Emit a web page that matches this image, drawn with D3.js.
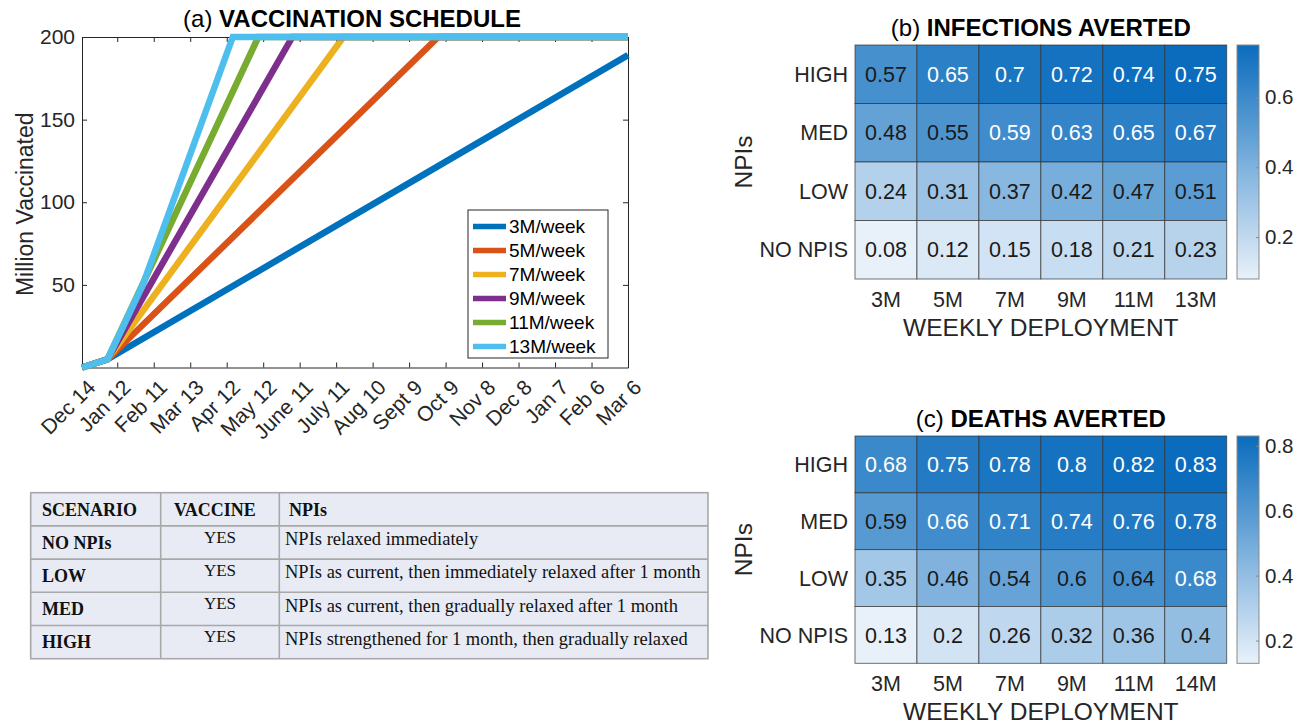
<!DOCTYPE html>
<html>
<head>
<meta charset="utf-8">
<script src="https://cdn.jsdelivr.net/npm/d3@7"></script>
<style>
  body { margin: 0; background: #fff; }
  svg { display: block; font-family: "Liberation Sans", Arial, Helvetica, sans-serif; }
</style>
</head>
<body>
<svg id="fig" width="1311" height="727"></svg>
<script>
// ---------- Panel (a): vaccination schedule ----------
// x positions are day indices counted from Dec 14
const scheduleTickDays = [0, 29, 59, 89, 119, 149, 179, 209, 239, 269, 299, 329, 359, 389, 419, 449];
const scheduleTickLabels = ["Dec 14", "Jan 12", "Feb 11", "Mar 13", "Apr 12", "May 12", "June 11",
  "July 11", "Aug 10", "Sept 9", "Oct 9", "Nov 8", "Dec 8", "Jan 7", "Feb 6", "Mar 6"];
const vaccTicks = [50, 100, 150, 200];

const seriesNames = ["3M/week", "5M/week", "7M/week", "9M/week", "11M/week", "13M/week"];
const seriesColors = ["#0072BD", "#D95319", "#EDB120", "#7E2F8E", "#77AC30", "#4DBEEE"];
// [day, million vaccinated]
const rate3 = [[0, 0], [21, 5], [449, 189]];
const rate5 = [[0, 0], [21, 5], [293, 200], [449, 200]];
const rate7 = [[0, 0], [21, 5], [215, 200], [449, 200]];
const rate9 = [[0, 0], [21, 5], [173, 200], [449, 200]];
const rate11 = [[0, 0], [21, 5], [145, 200], [449, 200]];
const rate13 = [[0, 0], [21, 5], [50, 50], [124, 200], [449, 200]];
const seriesValues = [rate3, rate5, rate7, rate9, rate11, rate13];

// ---------- Panels (b), (c): heatmaps ----------
const npiLevels = ["HIGH", "MED", "LOW", "NO NPIS"];
const infectionCols = ["3M", "5M", "7M", "9M", "11M", "13M"];
const infectionsAverted = [
  [0.57, 0.65, 0.7, 0.72, 0.74, 0.75],
  [0.48, 0.55, 0.59, 0.63, 0.65, 0.67],
  [0.24, 0.31, 0.37, 0.42, 0.47, 0.51],
  [0.08, 0.12, 0.15, 0.18, 0.21, 0.23]
];
const infectionBarTicks = [0.2, 0.4, 0.6];

const deathCols = ["3M", "5M", "7M", "9M", "11M", "14M"];
const deathsAverted = [
  [0.68, 0.75, 0.78, 0.8, 0.82, 0.83],
  [0.59, 0.66, 0.71, 0.74, 0.76, 0.78],
  [0.35, 0.46, 0.54, 0.6, 0.64, 0.68],
  [0.13, 0.2, 0.26, 0.32, 0.36, 0.4]
];
const deathBarTicks = [0.2, 0.4, 0.6, 0.8];

// ---------- Scenario table ----------
const tableHeader = ["SCENARIO", "VACCINE", "NPIs"];
const scenarioNames = ["NO NPIs", "LOW", "MED", "HIGH"];
const scenarioVaccine = ["YES", "YES", "YES", "YES"];
const scenarioNpis = [
  "NPIs relaxed immediately",
  "NPIs as current, then immediately relaxed after 1 month",
  "NPIs as current, then gradually relaxed after 1 month",
  "NPIs strengthened for 1 month, then gradually relaxed"
];

const svg = d3.select("#fig");
const axisColor = "#262626";

// ===== Panel (a) =====
(function drawSchedule() {
  const L = 82, R = 628, T = 37, B = 367.5;
  const x = d3.scaleLinear().domain([0, 449]).range([L, R]);
  const y = d3.scaleLinear().domain([0, 200]).range([B, T]);
  const g = svg.append("g");

  g.append("rect").attr("x", L).attr("y", T).attr("width", R - L).attr("height", B - T)
    .attr("fill", "#fff");

  const style = sel => {
    sel.select(".domain").attr("stroke", axisColor).attr("stroke-width", 1);
    sel.selectAll(".tick line").attr("stroke", axisColor).attr("stroke-width", 1);
    sel.selectAll("text").attr("fill", "#262626").style("font-size", "21px")
      .style("font-family", "'Liberation Sans', Arial, sans-serif");
  };

  const xb = g.append("g").attr("transform", `translate(0,${B})`)
    .call(d3.axisBottom(x).tickValues(scheduleTickDays).tickSize(-5).tickSizeOuter(0)
      .tickFormat((d, i) => scheduleTickLabels[i]));
  style(xb);
  xb.selectAll(".tick text")
    .attr("x", 0).attr("y", 0).attr("dy", "0.35em")
    .attr("transform", "translate(9,16) rotate(-45)")
    .style("text-anchor", "end");

  const xt = g.append("g").attr("transform", `translate(0,${T})`)
    .call(d3.axisTop(x).tickValues(scheduleTickDays).tickSize(-5).tickSizeOuter(0).tickFormat(""));
  style(xt);

  const yl = g.append("g").attr("transform", `translate(${L},0)`)
    .call(d3.axisLeft(y).tickValues(vaccTicks).tickSize(-5).tickSizeOuter(0).tickPadding(7));
  style(yl);

  const yr = g.append("g").attr("transform", `translate(${R},0)`)
    .call(d3.axisRight(y).tickValues(vaccTicks).tickSize(-5).tickSizeOuter(0).tickFormat(""));
  style(yr);

  const line = d3.line().x(d => x(d[0])).y(d => y(d[1]));
  seriesValues.forEach((pts, i) => {
    g.append("path").datum(pts).attr("d", line)
      .attr("fill", "none").attr("stroke", seriesColors[i])
      .attr("stroke-width", 6.5).attr("stroke-linejoin", "miter");
  });

  // legend
  const lg = g.append("g");
  lg.append("rect").attr("x", 468).attr("y", 210).attr("width", 140).attr("height", 148)
    .attr("fill", "#fff").attr("stroke", axisColor).attr("stroke-width", 1);
  seriesNames.forEach((name, i) => {
    const cy = 226.5 + i * 24;
    lg.append("line").attr("x1", 473).attr("x2", 506).attr("y1", cy).attr("y2", cy)
      .attr("stroke", seriesColors[i]).attr("stroke-width", 5.5);
    lg.append("text").attr("x", 509).attr("y", cy).attr("dy", "0.36em")
      .style("font-size", "19px").attr("fill", "#000").text(name);
  });

  g.append("text").attr("transform", `translate(33,${(T + B) / 2 + 2}) rotate(-90)`)
    .attr("text-anchor", "middle").style("font-size", "23px").attr("fill", "#262626")
    .text("Million Vaccinated");

  const title = g.append("text").attr("x", 352).attr("y", 27)
    .attr("text-anchor", "middle").style("font-size", "24px").attr("fill", "#000");
  title.append("tspan").text("(a) ");
  title.append("tspan").style("font-weight", "bold").text("VACCINATION SCHEDULE");
})();

// ===== Heatmaps =====
function drawHeatmap(cfg) {
  const { top, bottom, cols, values, barTicks, label, title, id } = cfg;
  const L = 855, R = 1226.7, barL = 1237, barR = 1259;
  const g = svg.append("g");
  const x = d3.scaleBand().domain(cols).range([L, R]);
  const y = d3.scaleBand().domain(npiLevels).range([top, bottom]);
  const flat = values.flat();
  const lo = d3.min(flat), hi = d3.max(flat);
  const color = d3.scaleLinear().domain([lo, hi]).range(["#e8f1fa", "#0b6cbd"])
    .interpolate(d3.interpolateRgb);
  const norm = d3.scaleLinear().domain([lo, hi]).range([0, 1]);

  const cells = [];
  values.forEach((row, r) => row.forEach((v, c) => cells.push({ r: npiLevels[r], c: cols[c], v })));

  g.selectAll("rect.cell").data(cells).join("rect").attr("class", "cell")
    .attr("x", d => x(d.c)).attr("y", d => y(d.r))
    .attr("width", x.bandwidth()).attr("height", y.bandwidth())
    .attr("fill", d => color(d.v))
    .attr("stroke", "rgba(45,45,45,0.75)").attr("stroke-width", 0.9);

  g.selectAll("text.val").data(cells).join("text").attr("class", "val")
    .attr("x", d => x(d.c) + x.bandwidth() / 2).attr("y", d => y(d.r) + y.bandwidth() / 2)
    .attr("dy", "0.36em").attr("text-anchor", "middle").style("font-size", "21.5px")
    .attr("fill", d => norm(d.v) > 0.745 ? "#fff" : "#1a1a1a")
    .text(d => d.v);

  // row labels
  g.selectAll("text.row").data(npiLevels).join("text").attr("class", "row")
    .attr("x", L - 7).attr("y", d => y(d) + y.bandwidth() / 2).attr("dy", "0.36em")
    .attr("text-anchor", "end").style("font-size", "21.5px").attr("fill", "#262626").text(d => d);

  // column labels
  g.selectAll("text.col").data(cols).join("text").attr("class", "col")
    .attr("x", d => x(d) + x.bandwidth() / 2).attr("y", bottom + 28)
    .attr("text-anchor", "middle").style("font-size", "21.5px").attr("fill", "#262626").text(d => d);

  g.append("text").attr("x", (L + R) / 2).attr("y", bottom + 56.5).attr("text-anchor", "middle")
    .style("font-size", "24.5px").attr("fill", "#262626").text("WEEKLY DEPLOYMENT");

  g.append("text").attr("transform", `translate(752,${(top + bottom) / 2}) rotate(-90)`)
    .attr("text-anchor", "middle").style("font-size", "24.5px").attr("fill", "#262626").text("NPIs");

  const t = g.append("text").attr("x", (L + R) / 2).attr("y", top - 9)
    .attr("text-anchor", "middle").style("font-size", "24px").attr("fill", "#000");
  t.append("tspan").text(label + " ");
  t.append("tspan").style("font-weight", "bold").text(title);

  // colorbar
  const grad = svg.append("defs").append("linearGradient").attr("id", id)
    .attr("x1", 0).attr("y1", 1).attr("x2", 0).attr("y2", 0);
  d3.range(0, 1.0001, 0.1).forEach(f => {
    grad.append("stop").attr("offset", f).attr("stop-color", color(lo + f * (hi - lo)));
  });
  g.append("rect").attr("x", barL).attr("y", top).attr("width", barR - barL)
    .attr("height", bottom - top).attr("fill", `url(#${id})`)
    .attr("stroke", "#8a8a8a").attr("stroke-width", 1);
  const cy = d3.scaleLinear().domain([lo, hi]).range([bottom, top]);
  const bar = g.append("g").attr("transform", `translate(${barR},0)`)
    .call(d3.axisRight(cy).tickValues(barTicks).tickSize(-3).tickSizeOuter(0).tickPadding(6)
      .tickFormat(d3.format("~g")));
  bar.select(".domain").remove();
  bar.selectAll(".tick line").attr("stroke", "#8a8a8a");
  bar.selectAll("text").style("font-size", "20.5px").attr("fill", "#262626")
    .style("font-family", "'Liberation Sans', Arial, sans-serif");
}

drawHeatmap({ top: 45, bottom: 279, cols: infectionCols, values: infectionsAverted,
  barTicks: infectionBarTicks, label: "(b)", title: "INFECTIONS AVERTED", id: "gradInf" });
drawHeatmap({ top: 436, bottom: 663.3, cols: deathCols, values: deathsAverted,
  barTicks: deathBarTicks, label: "(c)", title: "DEATHS AVERTED", id: "gradDeath" });

// ===== Scenario table =====
(function drawTable() {
  const colX = [30.7, 160.7, 279.3, 708];
  const rowY = [492.7, 525.9, 559.1, 592.3, 625.5, 658.7];
  const g = svg.append("g").style("font-family", "'Liberation Serif', 'Times New Roman', serif")
    .attr("fill", "#111");
  g.append("rect").attr("x", colX[0]).attr("y", rowY[0])
    .attr("width", colX[3] - colX[0]).attr("height", rowY[5] - rowY[0])
    .attr("fill", "#e8ebf4").attr("stroke", "#a8a8a8").attr("stroke-width", 1.6);
  rowY.slice(1, 5).forEach(yy => g.append("line").attr("x1", colX[0]).attr("x2", colX[3])
    .attr("y1", yy).attr("y2", yy).attr("stroke", "#a8a8a8").attr("stroke-width", 1.6));
  colX.slice(1, 3).forEach(xx => g.append("line").attr("x1", xx).attr("x2", xx)
    .attr("y1", rowY[0]).attr("y2", rowY[5]).attr("stroke", "#a8a8a8").attr("stroke-width", 1.6));

  const hx = [42, 174, 289];
  tableHeader.forEach((h, i) => g.append("text").attr("x", hx[i]).attr("y", rowY[0] + 23.3)
    .style("font-size", "18px").style("font-weight", "bold").text(h));

  scenarioNames.forEach((name, i) => {
    const top = rowY[i + 1];
    g.append("text").attr("x", 42).attr("y", top + 22.7).style("font-size", "18px")
      .style("font-weight", "bold").text(name);
    g.append("text").attr("x", (colX[1] + colX[2]) / 2).attr("y", top + 16.8)
      .attr("text-anchor", "middle").style("font-size", "17px").text(scenarioVaccine[i]);
    g.append("text").attr("x", 285).attr("y", top + 19.3).style("font-size", "18.5px")
      .text(scenarioNpis[i]);
  });
})();
</script>
</body>
</html>
